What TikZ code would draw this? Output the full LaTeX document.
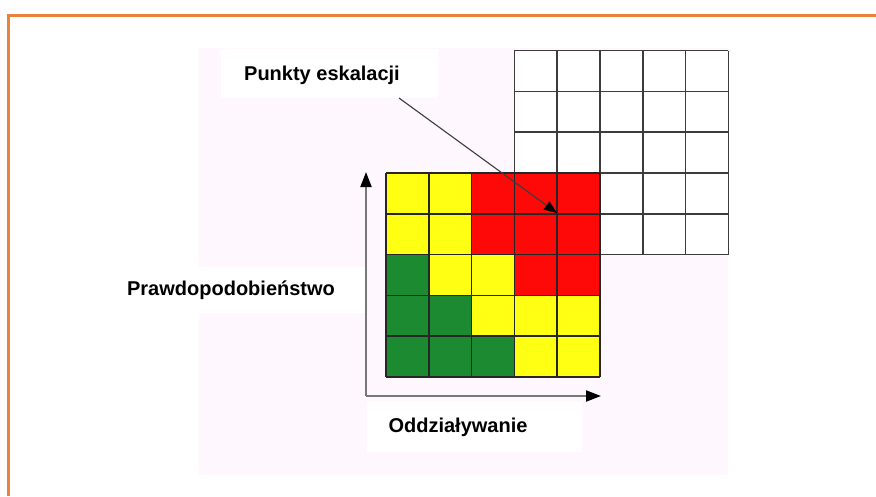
\documentclass[tikz,border=0pt]{standalone}
\usepackage{fontspec}
\setmainfont{Liberation Sans}
\usetikzlibrary{arrows.meta}
\definecolor{bgpink}{RGB}{254,248,254}
\definecolor{frameorange}{RGB}{233,130,58}
\definecolor{cellyellow}{RGB}{255,255,20}
\definecolor{cellred}{RGB}{255,8,8}
\definecolor{cellgreen}{RGB}{28,138,48}
\definecolor{gridgray}{RGB}{60,60,60}
\definecolor{axisgray}{RGB}{120,120,120}
\tikzset{
  labelbox/.style={fill=white, inner sep=0pt, font=\fontsize{20}{24}\selectfont\bfseries},
  gridline/.style={draw=gridgray, line width=1.5pt},
  cellline/.style={draw=black!85, line width=1.5pt},
  axisline/.style={draw=axisgray, line width=2pt, -{Triangle[length=15pt,width=11pt,color=black]}},
  pointer/.style={draw=gridgray, line width=1.1pt, -{Triangle[length=13pt,width=10pt,color=black]}},
}
\begin{document}
\begin{tikzpicture}[x=1pt,y=-1pt]
\useasboundingbox (0,0) rectangle (876,496);
\fill[white] (0,0) rectangle (876,496);
% frame
\draw[frameorange, line width=2.5pt] (8.7,496) -- (8.7,15.7) -- (876,15.7);
% pink background
\fill[bgpink] (199,48) rectangle (728,475);
% white grid (upper right)
\def\cw{42.8}
\def\ch{40.8}
\fill[white] (514.4,50.6) rectangle (728.4,254.6);
\foreach \i in {0,...,5} {
  \draw[gridline] (514.4+\i*\cw,50.6) -- (514.4+\i*\cw,254.6);
  \draw[gridline] (514.4,50.6+\i*\ch) -- (728.4,50.6+\i*\ch);
}
% colored cells: rows top to bottom
\foreach \r/\row in {0/{Y,Y,R,R,R},1/{Y,Y,R,R,R},2/{G,Y,Y,R,R},3/{G,G,Y,Y,Y},4/{G,G,G,Y,Y}} {
  \foreach \c [count=\k from 0] in \row {
    \if R\c\def\cc{cellred}\fi
    \if G\c\def\cc{cellgreen}\fi
    \if Y\c\def\cc{cellyellow}\fi
    \fill[\cc] (386+\k*\cw,173+\r*\ch) rectangle (386+\k*\cw+\cw,173+\r*\ch+\ch);
  }
}
\foreach \i in {0,...,5} {
  \draw[cellline] (386+\i*\cw,173) -- (386+\i*\cw,377);
  \draw[cellline] (386,173+\i*\ch) -- (600,173+\i*\ch);
}
% axes
\coordinate (origin) at (366,396);
\coordinate (ytip) at (366,172);
\coordinate (xtip) at (601,396);
\draw[axisline] (origin) -- (ytip);
\draw[axisline] (origin) -- (xtip);
% labels
\fill[white] (221,49) rectangle (438,98);
\node[labelbox] (esc) at (322,75) {Punkty eskalacji};
\fill[white] (199,267) rectangle (365,313);
\node[labelbox] (prob) at (231,290) {Prawdopodobieństwo};
\fill[white] (367,402) rectangle (582,452);
\node[labelbox] (imp) at (458,427) {Oddziaływanie};
% pointer
\coordinate (escstart) at (399,98);
\coordinate (escpt) at (557,213);
\draw[pointer] (escstart) -- (escpt);
\end{tikzpicture}
\end{document}
